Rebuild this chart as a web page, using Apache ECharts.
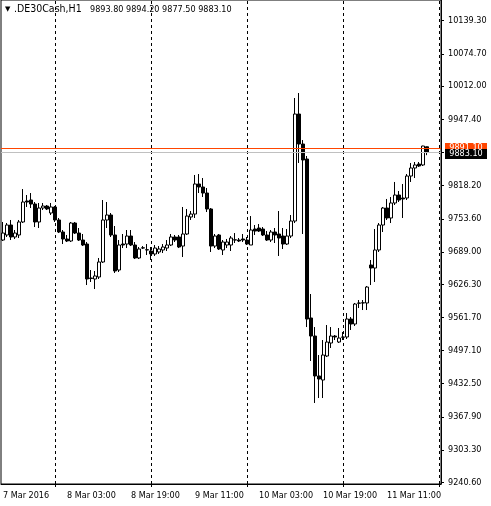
<!DOCTYPE html>
<html><head><meta charset="utf-8">
<script src="https://cdn.jsdelivr.net/npm/echarts@6/dist/echarts.min.js"></script>
<style>html,body{margin:0;padding:0;background:#fff}#c{width:491px;height:506px}</style>
</head><body><div id="c"></div>
<script>
// ---- data ----
const symbolText = '.DE30Cash,H1';
const ohlcText = '9893.80 9894.20 9877.50 9883.10';
const bidPrice = 9883.1;
const askPrice = 9891.1;
const xTickLabels = ['7 Mar 2016', '8 Mar 03:00', '8 Mar 19:00', '9 Mar 11:00', '10 Mar 03:00', '10 Mar 19:00', '11 Mar 11:00'];
const labelStep = 16;
const daySeparators = ['2016.03.08 00:00', '2016.03.09 00:00', '2016.03.10 00:00', '2016.03.11 00:00', '2016.03.12 00:00'];
const yTickValues = [9240.6, 9303.3, 9367.9, 9432.5, 9497.1, 9561.7, 9626.3, 9689.0, 9753.6, 9818.2, 9883.1, 9947.4, 10012.0, 10074.7, 10139.3];
const yMin = 9237.3, yMax = 10179.6;

const opens = [9712.3,9722.1,9741.5,9718.2,9722.1,9747.4,9788.3,9790.2,9782.4,9747.4,
9774.6,9778.5,9764.9,9776.6,9751.3,9727.9,9714.3,9710.4,9745.4,9725.9,
9712.3,9704.5,9638.4,9636.4,9640.3,9669.5,9751.3,9761.0,9722.1,9653.9,
9704.5,9704.5,9720.1,9702.6,9677.3,9696.7,9692.9,9690.9,9685.1,9689.0,
9692.9,9696.7,9702.6,9718.2,9718.2,9700.6,9724.0,9757.1,9762.9,9821.4,
9815.5,9803.8,9772.7,9700.6,9722.1,9692.9,9702.6,9702.6,9712.3,9712.3,
9714.3,9712.3,9702.6,9733.7,9735.7,9733.7,9722.1,9712.3,9727.9,9724.0,
9720.1,9704.5,9720.1,9749.3,9957.6,9899.2,9870.0,9560.5,9525.4,9447.6,
9439.8,9486.5,9511.8,9525.4,9513.7,9523.0,9523.5,9558.5,9548.8,9589.2,
9589.7,9589.7,9663.7,9657.8,9692.9,9741.5,9774.6,9755.2,9784.4,9799.9,
9794.1,9794.1,9836.9,9852.5,9860.3,9858.4,9893.8];
const highs = [9747.4,9745.4,9751.3,9731.8,9751.3,9811.6,9799.9,9803.8,9786.3,9784.4,
9784.4,9780.5,9784.4,9778.5,9755.2,9731.8,9722.1,9747.4,9747.4,9735.7,
9724.0,9708.4,9653.9,9652.0,9677.3,9790.2,9786.3,9764.9,9739.6,9712.3,
9724.0,9731.8,9731.8,9708.4,9698.7,9700.6,9704.5,9698.7,9702.6,9700.6,
9704.5,9712.3,9724.0,9722.1,9722.1,9776.6,9772.7,9768.8,9838.9,9840.8,
9833.0,9813.6,9774.6,9724.0,9724.0,9712.3,9714.3,9720.1,9725.9,9716.2,
9724.0,9718.2,9759.0,9741.5,9743.5,9737.6,9729.8,9731.8,9735.7,9768.8,
9735.7,9733.7,9761.0,9988.8,9998.5,9907.0,9875.9,9607.2,9542.9,9488.4,
9517.6,9546.8,9542.9,9527.4,9541.0,9533.2,9570.2,9562.4,9589.7,9595.5,
9595.5,9622.8,9673.4,9733.7,9745.4,9776.6,9792.2,9796.0,9825.3,9807.7,
9821.4,9840.8,9862.3,9864.2,9864.2,9895.8,9894.2];
const lows = [9710.4,9718.2,9712.3,9714.3,9716.2,9745.4,9776.6,9774.6,9737.6,9735.7,
9770.7,9770.7,9761.0,9747.4,9725.9,9704.5,9708.4,9708.4,9724.0,9710.4,
9700.6,9624.7,9630.6,9616.9,9636.4,9667.6,9735.7,9718.2,9648.1,9650.0,
9696.7,9696.7,9700.6,9675.3,9675.3,9694.8,9683.1,9673.4,9681.2,9685.1,
9687.0,9690.9,9700.6,9708.4,9696.7,9679.2,9722.1,9751.3,9755.2,9803.8,
9796.0,9766.8,9689.0,9696.7,9692.9,9683.1,9696.7,9690.9,9706.5,9708.4,
9708.4,9702.6,9702.6,9722.1,9727.9,9720.1,9710.4,9708.4,9706.5,9681.2,
9694.8,9702.6,9716.2,9745.4,9862.3,9724.0,9542.9,9476.8,9395.0,9404.7,
9404.7,9484.5,9502.1,9517.6,9511.8,9517.6,9519.6,9537.1,9544.9,9579.9,
9576.0,9576.0,9624.7,9630.6,9689.0,9727.9,9751.3,9745.4,9780.5,9786.3,
9755.2,9790.2,9825.3,9833.0,9854.5,9856.4,9877.5];
const closes = [9725.9,9741.5,9718.2,9725.9,9747.4,9786.3,9786.3,9782.4,9747.4,9774.6,
9778.5,9772.7,9776.6,9751.3,9727.9,9714.3,9710.4,9745.4,9725.9,9712.3,
9702.6,9636.4,9637.4,9642.3,9669.5,9751.3,9761.0,9722.1,9652.0,9702.6,
9702.6,9720.1,9702.6,9677.3,9694.8,9697.2,9693.5,9685.1,9696.7,9694.8,
9698.7,9702.6,9718.2,9712.3,9698.7,9724.0,9759.0,9762.9,9821.4,9815.5,
9803.8,9772.7,9700.6,9720.1,9694.8,9708.4,9708.4,9716.2,9712.8,9710.4,
9712.3,9704.5,9731.8,9729.8,9729.8,9722.1,9712.3,9727.9,9722.1,9716.2,
9704.5,9720.1,9749.3,9957.6,9899.2,9868.1,9558.5,9525.4,9447.6,9441.7,
9488.4,9513.7,9525.4,9523.5,9521.5,9523.5,9558.5,9548.8,9587.7,9589.7,
9590.2,9620.8,9657.8,9692.9,9741.5,9774.6,9755.2,9784.4,9799.9,9790.2,
9792.2,9836.9,9852.5,9858.4,9856.4,9895.3,9883.1];

// hourly bar times (axis categories), incl. empty slots to the right
function pad(n){return (n<10?'0':'')+n;}
const categories = [];
for (let k = 0; k < 110; k++) {
  const d = new Date(Date.UTC(2016, 2, 7, 11 + k));
  categories.push(d.getUTCFullYear()+'.'+pad(d.getUTCMonth()+1)+'.'+pad(d.getUTCDate())+' '+pad(d.getUTCHours())+':00');
}
const candleData = opens.map((o, i) => [o, closes[i], lows[i], highs[i]]);

const FONT = "'DejaVu Sans Condensed', 'Liberation Sans', sans-serif";
const chart = echarts.init(document.getElementById('c'), null, {renderer: 'canvas'});
chart.setOption({
  animation: false,
  backgroundColor: '#fff',
  grid: {left: 1, right: 50, top: 0, bottom: 22, show: true, borderColor: '#000', borderWidth: 1},
  xAxis: {
    type: 'category', data: categories, boundaryGap: true,
    axisLine: {show: true, lineStyle: {color: '#000', width: 1}},
    axisTick: {show: true, alignWithLabel: true, length: 3, interval: (i, v) => daySeparators.indexOf(v) >= 0, lineStyle: {color: '#000'}},
    axisLabel: {
      interval: (i) => i % labelStep === 0 && i / labelStep < xTickLabels.length,
      formatter: (v, i) => xTickLabels[Math.round(i / labelStep)] || '',
      align: 'left', color: '#000', fontFamily: FONT, fontSize: 9, margin: 7
    },
    splitLine: {show: false}
  },
  yAxis: {
    type: 'value', position: 'right', min: yMin, max: yMax,
    axisLine: {show: true, lineStyle: {color: '#000', width: 1}},
    axisTick: {show: true, length: 3, customValues: yTickValues, lineStyle: {color: '#000'}},
    axisLabel: {customValues: yTickValues, formatter: v => v.toFixed(2), color: '#000', fontFamily: FONT, fontSize: 9, margin: 7},
    splitLine: {show: false}
  },
  series: [
    {
      type: 'candlestick', data: candleData, barWidth: 3, z: 3,
      itemStyle: {color: '#fff', color0: '#000', borderColor: '#000', borderColor0: '#000', borderWidth: 1},
      markLine: {
        silent: true, symbol: 'none', z: 1, animation: false,
        label: {show: false},
        lineStyle: {color: '#000', type: [3, 3], width: 1},
        data: daySeparators.map(v => ({xAxis: v}))
      }
    },
    {
      type: 'line', data: [], z: 10,
      markLine: {
        silent: true, symbol: 'none', z: 10, animation: false,
        label: {show: false},
        data: [
          {yAxis: askPrice, lineStyle: {color: '#ff4500', type: 'solid', width: 1}},
          {yAxis: bidPrice, lineStyle: {color: '#c0c0c0', type: 'solid', width: 1}}
        ]
      }
    }
  ]
});

const askY = chart.convertToPixel({yAxisIndex: 0}, askPrice);
const bidY = chart.convertToPixel({yAxisIndex: 0}, bidPrice);
chart.setOption({
  graphic: [
    {type: 'text', left: 5, top: 6, z: 20, style: {text: '\u25BC', fontFamily: 'DejaVu Sans', fontSize: 7, fill: '#000'}},
    {type: 'text', left: 14, top: 4, z: 20, style: {text: symbolText, fontFamily: FONT, fontSize: 10.5, fill: '#000'}},
    {type: 'text', left: 90, top: 5, z: 20, style: {text: ohlcText, fontFamily: FONT, fontSize: 9, fill: '#000'}},
    {type: 'rect', z: 30, shape: {x: 445, y: Math.round(askY) - 5, width: 42, height: 10}, style: {fill: '#ff4500'}},
    {type: 'text', z: 31, x: 466, y: Math.round(askY), style: {text: askPrice.toFixed(2), fontFamily: FONT, fontSize: 9, fill: '#fff', align: 'center', verticalAlign: 'middle'}},
    {type: 'rect', z: 32, shape: {x: 445, y: Math.round(bidY) - 3, width: 42, height: 10}, style: {fill: '#000'}},
    {type: 'text', z: 33, x: 466, y: Math.round(bidY) + 2, style: {text: bidPrice.toFixed(2), fontFamily: FONT, fontSize: 9, fill: '#fff', align: 'center', verticalAlign: 'middle'}}
  ]
});
</script></body></html>
